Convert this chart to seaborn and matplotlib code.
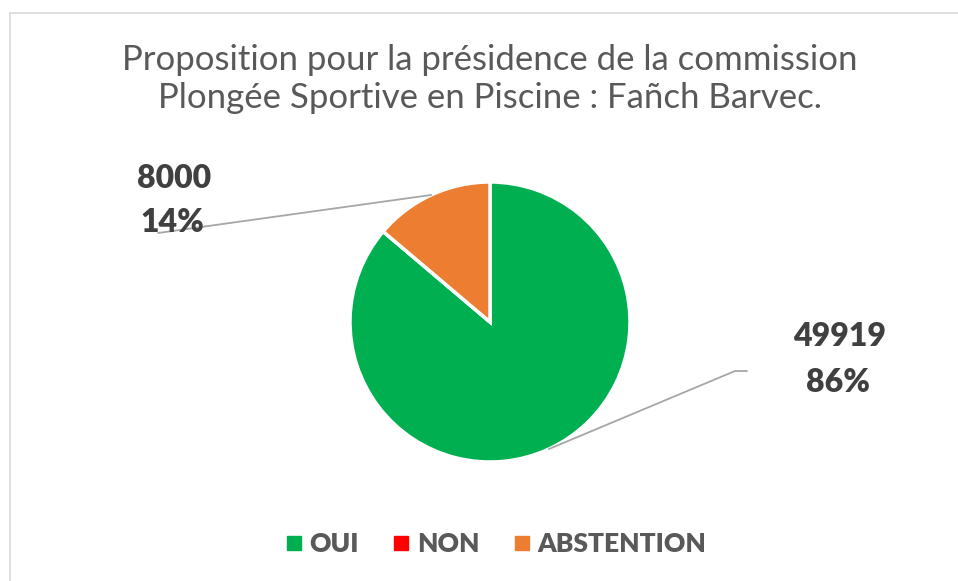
import matplotlib.pyplot as plt
from matplotlib.lines import Line2D
import seaborn as sns
import numpy as np


# --------------------------------------------------------------------------------------------------
# données du vote:

categories = ["OUI", "NON", "ABSTENTION"]
votes      = [49919, 0, 8000]
colors     = ["#00B050", "#FF0000", "#ED7D31"]

title = "Proposition pour la présidence de la commission\nPlongée Sportive en Piscine : Fañch Barvec."

W, H = 958, 581

sns.set_theme(style="white")
plt.rcParams["font.family"] = ["Lato", "DejaVu Sans"]

fig = plt.figure(figsize=(W / 100, H / 100), dpi=100)
ax = fig.add_axes([0, 0, 1, 1])

# centre et rayon en pixels (y vers le haut)
cx, cy, r = 490, H - 322, 140

wedges, _ = ax.pie(
    votes,
    colors=colors,
    startangle=90,
    counterclock=False,
    center=(cx, cy),
    radius=r,
    wedgeprops=dict(edgecolor="white", linewidth=2.5),
)

ax.set_xlim(0, W)
ax.set_ylim(0, H)
ax.set_aspect("equal")
ax.axis("off")

# --------------------------------------------------------------------------------------------------
# étiquettes avec lignes de rappel

total = sum(votes)
label_pos = {
    "OUI": dict(line_end=(747, H - 371), text=(840, H - 337)),
    "ABSTENTION": dict(line_end=(158, H - 233), text=(174, H - 178)),
}

for w, cat, v in zip(wedges, categories, votes):
    if v == 0:
        continue
    ang = np.deg2rad((w.theta1 + w.theta2) / 2)
    edge = (cx + r * np.cos(ang), cy + r * np.sin(ang))
    pos = label_pos[cat]
    lx, ly = pos["line_end"]
    if cat == "OUI":
        ax.plot([edge[0], lx - 12, lx], [edge[1], ly, ly], color="#A6A6A6", lw=1.3)
    else:
        ax.plot([edge[0], lx], [edge[1], ly], color="#A6A6A6", lw=1.3)
    tx, ty = pos["text"]
    pct = f"{round(100 * v / total)}%"
    ax.text(tx, ty, str(v), ha="center", va="center", fontsize=23,
            fontweight="heavy", color="#404040")
    ax.text(tx - 2, ty - 45, pct, ha="center", va="center", fontsize=23,
            fontweight="heavy", color="#404040")

# --------------------------------------------------------------------------------------------------
# titre

ax.text(490, H - 79, title, ha="center", va="center", fontsize=25,
        color="#595959", linespacing=1.25)

# --------------------------------------------------------------------------------------------------
# légende

handles = [Line2D([], [], marker="s", linestyle="none", markersize=9.5,
                  markerfacecolor=c, markeredgecolor=c) for c in colors]
leg = ax.legend(handles, categories, loc="center", bbox_to_anchor=(496 / W, 1 - 544 / H),
                bbox_transform=fig.transFigure, ncol=3, frameon=False,
                handlelength=0.6, handletextpad=0.3, columnspacing=1.3,
                prop=dict(size=19, weight="heavy"))
for t in leg.get_texts():
    t.set_color("#595959")

# --------------------------------------------------------------------------------------------------
# cadre du graphique

fig.add_artist(Line2D([9.5 / W, 1], [1 - 12.5 / H, 1 - 12.5 / H],
                      transform=fig.transFigure, color="#D9D9D9", lw=1.2))
fig.add_artist(Line2D([9.5 / W, 9.5 / W], [0, 1 - 12.5 / H],
                      transform=fig.transFigure, color="#D9D9D9", lw=1.2))

plt.savefig("out.png", dpi=100)
plt.close()
